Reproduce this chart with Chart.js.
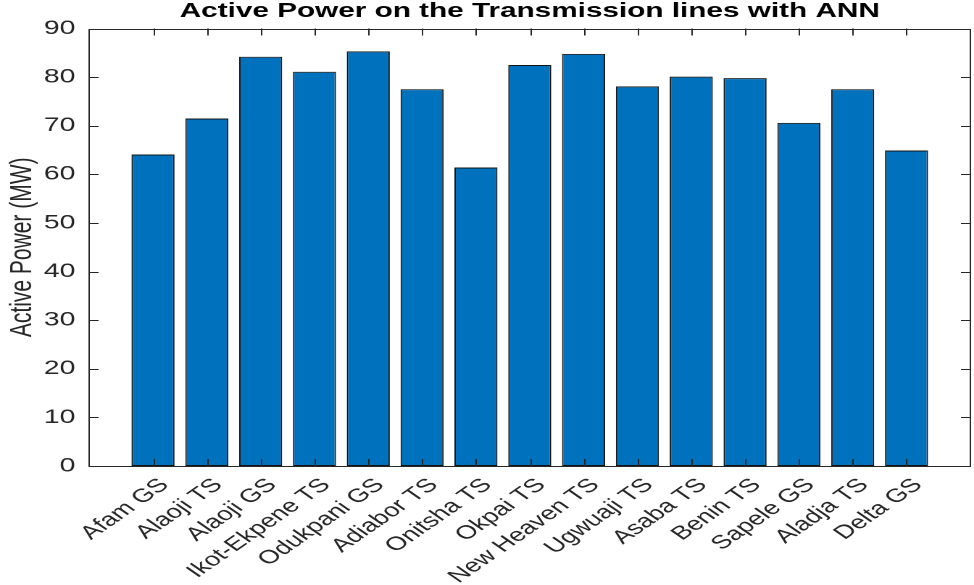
<!DOCTYPE html>
<html>
<head>
<meta charset="utf-8">
<title>Active Power on the Transmission lines with ANN</title>
<script src="https://cdn.jsdelivr.net/npm/chart.js@4.4.0/dist/chart.umd.min.js"></script>
<style>
    html, body { margin: 0; padding: 0; background: #fff; overflow: hidden; }
    /* the reference picture is stretched sideways, so the chart is drawn narrow and widened */
    #wrap { width: 672px; height: 585px; transform: scaleX(1.4494); transform-origin: 0 0; }
</style>
</head>
<body>
<div id="wrap"><canvas id="myChart" width="672" height="585"></canvas></div>
<script>
var stations = ['Afam GS', 'Alaoji TS', 'Alaoji GS', 'Ikot-Ekpene TS', 'Odukpani GS', 'Adiabor TS',
    'Onitsha TS', 'Okpai TS', 'New Heaven TS', 'Ugwuaji TS', 'Asaba TS', 'Benin TS',
    'Sapele GS', 'Aladja TS', 'Delta GS'];
var activePower = [64.1, 71.5, 84.2, 81.1, 85.3, 77.5, 61.4, 82.5, 84.8, 78.1, 80.1, 79.8, 70.6, 77.5, 64.9];
var yTicks = [0, 10, 20, 30, 40, 50, 60, 70, 80, 90];

var axisColor = '#262626';
var fontName = "'Liberation Sans', Arial, Helvetica, sans-serif";

// MATLAB style box with tick marks pointing inwards on all four sides
var boxTicks = {
    id: 'boxTicks',
    afterDatasetsDraw: function (chart) {
        var ctx = chart.ctx;
        var a = chart.chartArea;
        var x = chart.scales.x, y = chart.scales.y;
        var len = 7;
        ctx.save();
        ctx.strokeStyle = axisColor;
        ctx.lineWidth = 1;
        ctx.beginPath();
        x.ticks.forEach(function (t) {
            var px = Math.round(x.getPixelForValue(t.value)) + 0.5;
            ctx.moveTo(px, a.bottom); ctx.lineTo(px, a.bottom - len);
            ctx.moveTo(px, a.top); ctx.lineTo(px, a.top + len);
        });
        y.ticks.forEach(function (t) {
            var py = Math.round(y.getPixelForValue(t.value)) + 0.5;
            ctx.moveTo(a.left, py); ctx.lineTo(a.left + len, py);
            ctx.moveTo(a.right, py); ctx.lineTo(a.right - len, py);
        });
        ctx.stroke();
        ctx.strokeRect(Math.round(a.left) + 0.5, Math.round(a.top) + 0.5,
            Math.round(a.right - a.left) - 1, Math.round(a.bottom - a.top));
        ctx.restore();
    }
};

var ctx = document.getElementById('myChart').getContext('2d');
var myChart = new Chart(ctx, {
    type: 'bar',
    data: {
        datasets: [{
            label: 'Active Power',
            data: activePower.map(function (v, i) { return { x: i + 1, y: v }; }),
            backgroundColor: '#0072BD',
            borderColor: '#141414',
            borderWidth: 1,
            borderSkipped: false,
            barPercentage: 0.8,
            categoryPercentage: 1.0
        }]
    },
    options: {
        responsive: false,
        animation: false,
        devicePixelRatio: 2,
        layout: { padding: { left: 0, right: 2, top: 0, bottom: 0 } },
        plugins: {
            legend: { display: false },
            tooltip: { enabled: false },
            title: {
                display: true,
                text: 'Active Power on the Transmission lines with ANN',
                fullSize: false,
                color: '#000',
                font: { family: fontName, size: 20.5, weight: 'bold', lineHeight: 1.1 },
                padding: { top: 0, bottom: 6 }
            }
        },
        scales: {
            x: {
                type: 'linear',
                offset: false,
                min: -0.2,
                max: 16.2,
                grid: { display: false, drawTicks: false },
                border: { display: false },
                afterBuildTicks: function (scale) {
                    scale.ticks = stations.map(function (s, i) { return { value: i + 1 }; });
                },
                afterFit: function (scale) { scale.height = 119; },
                ticks: {
                    autoSkip: false,
                    minRotation: 45,
                    maxRotation: 45,
                    padding: 8,
                    labelOffset: 8,
                    color: axisColor,
                    font: { family: fontName, size: 19 },
                    callback: function (value) { return stations[value - 1]; }
                }
            },
            y: {
                min: 0,
                max: 90,
                grid: { display: false, drawTicks: false },
                border: { display: false },
                afterBuildTicks: function (scale) {
                    scale.ticks = yTicks.map(function (v) { return { value: v }; });
                },
                afterFit: function (scale) { scale.width = 61; },
                ticks: {
                    padding: 9,
                    color: axisColor,
                    font: { family: fontName, size: 19.5 }
                },
                title: {
                    display: true,
                    text: 'Active Power (MW)',
                    color: axisColor,
                    font: { family: fontName, size: 21 },
                    padding: { top: 3, bottom: 0 }
                }
            }
        }
    },
    plugins: [boxTicks]
});
</script>
</body>
</html>
